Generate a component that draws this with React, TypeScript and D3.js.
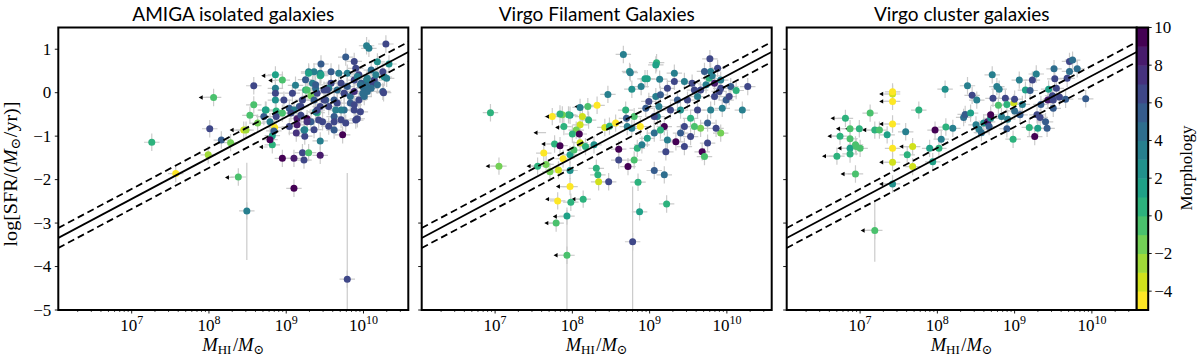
import React from 'react';
import * as d3 from 'd3';

// [log M_HI, log SFR, morphological type T]
const amigaPoints = [
  [7.26, -1.14, 0], [7.57, -1.86, -5], [7.99, -1.43, -3], [8.28, -1.15, -2], [8.38, -1.94, -1],
  [8.49, -2.72, 3], [9.79, -4.29, 6], [9.10, -2.20, 9], [8.01, -0.83, 6], [8.16, -1.09, 5],
  [8.06, -0.11, -1], [8.58, 0.16, 6], [8.53, -0.52, -1], [8.63, -0.70, -2], [8.58, -0.28, -1],
  [8.45, -0.86, -4], [8.48, -0.86, -3], [8.85, -0.80, -5], [8.86, 0.41, 1], [8.95, 0.29, -1],
  [8.86, 0.10, 3], [8.86, -0.17, 2], [8.74, -0.40, 0], [8.87, -0.42, 0], [8.95, -0.47, -1],
  [8.87, -0.55, 6], [8.82, -0.99, 1], [8.82, -1.20, 0], [8.79, -1.08, 9], [8.84, -0.88, 5],
  [8.95, -1.51, 9], [9.10, -1.51, 8], [9.21, -1.38, 6], [9.23, -1.55, 6], [9.29, -1.38, -1],
  [9.44, -1.44, 8], [9.44, -1.11, 3], [9.73, -0.97, 9], [9.13, -0.93, 7], [9.04, -0.78, 6],
  [9.24, -1.00, 6], [9.24, -0.85, 1], [9.27, -0.60, 9], [9.32, -0.67, 5], [9.40, -0.46, 0],
  [9.32, -0.07, -2], [9.25, 0.06, 0], [9.44, 0.39, 0], [9.44, 0.45, 3], [9.45, 0.66, 5],
  [9.29, 0.48, 3], [9.36, 0.48, 3], [9.58, 0.48, 5], [9.68, 0.45, 3], [9.79, 0.45, 3],
  [9.25, 0.30, 5], [9.12, 0.17, 3], [9.77, 0.82, 5], [9.88, 0.72, 6], [10.04, 1.08, 3],
  [10.07, 1.02, 3], [10.29, 1.12, 6], [10.18, 0.71, 2], [10.33, 0.66, 2], [10.27, 0.36, 2],
  [10.30, 0.33, 3], [10.25, 0.03, 5], [10.04, 0.29, 3], [10.12, 0.22, 6], [10.01, 0.10, 6],
  [9.97, 0.22, 5], [9.88, 0.29, 6], [9.90, 0.56, 6], [10.10, 0.52, 4], [9.94, -0.17, 6],
  [9.83, -0.24, 5], [9.88, -0.40, 6], [9.92, -0.60, 6], [9.71, -0.62, 6], [9.62, -0.55, 5],
  [9.55, -0.77, 6], [9.64, -0.40, 3], [9.75, -0.40, 4], [9.62, -0.17, 5], [9.51, -0.17, 5],
  [9.49, 0.06, 6], [9.58, 0.22, 6], [9.66, 0.06, 4], [9.75, -0.02, 5], [9.79, 0.14, 5],
  [9.71, 0.22, 6], [9.40, -0.01, 6], [9.36, -0.17, 5], [9.44, -0.32, 6], [9.55, -0.32, 6],
  [9.38, 0.10, 4], [9.83, -0.09, 4], [10.01, -0.09, 4], [10.05, 0.03, 4], [9.99, -0.02, 4],
  [10.10, 0.10, 4], [10.14, 0.29, 6], [9.94, 0.41, 6], [9.04, -0.36, 5], [8.97, -0.17, 6],
  [9.10, -0.40, 3], [9.14, -0.60, 8], [9.19, -0.52, 6], [9.21, -0.17, 6], [9.17, -0.32, 5],
  [9.36, -0.85, 6], [9.47, -0.67, 6], [9.62, -0.86, 5], [9.77, -0.70, 6], [8.71, -0.55, 5],
  [8.79, -0.67, 3], [9.38, -0.44, 3], [9.55, 0.10, 3], [10.16, 0.41, 3], [10.25, 0.48, 6],
  [9.88, 0.03, 7], [9.34, 0.22, 3],
  [9.29, 0.45, 1], [9.45, 0.41, 1], [9.92, 0.37, 3], [10.05, 0.33, 3], [9.38, 0.18, 5],
  [8.86, -0.01, 6], [9.08, -0.01, 6], [9.27, 0.06, -1], [9.53, 0.06, 6], [9.75, -0.01, 6],
  [9.96, 0.18, 4], [10.00, 0.12, 4], [10.04, 0.16, 4], [10.18, 0.18, 4], [10.26, 0.00, 6],
  [9.49, -0.17, 6], [9.66, -0.24, 6], [9.88, -0.28, 6], [9.96, -0.44, 6], [9.71, -0.40, 3],
  [9.40, -0.40, 6], [9.19, -0.32, 6], [8.73, -0.40, 1], [9.06, -0.47, 6], [9.27, -0.67, 7],
  [9.42, -0.63, 6], [9.62, -0.67, 6], [9.90, -0.63, 6], [9.14, -0.74, 8], [9.23, -0.86, 3],
];

const filamentPoints = [
  [6.94, -0.46, 0], [7.05, -1.69, -2], [8.66, 0.88, 3], [8.74, 0.49, 2], [9.09, 0.69, 0],
  [9.08, 0.64, 1], [8.97, 0.32, 1], [8.94, 0.32, 1], [8.89, 0.14, 3], [8.77, 0.08, 2],
  [8.46, -0.04, 3], [8.32, -0.29, -5], [8.20, -0.32, -1], [8.10, -0.34, 3], [7.97, -0.52, 1],
  [7.95, -0.51, 0], [7.87, -0.51, -2], [7.84, -0.49, 0], [7.74, -0.55, -5], [8.13, -0.55, -4],
  [8.21, -0.63, 0], [8.10, -0.74, -4], [8.05, -0.86, -2], [8.09, -0.95, 9], [8.00, -0.95, 0],
  [7.89, -0.78, 0], [7.77, -1.18, 0], [7.84, -1.22, 9], [7.63, -1.39, -5], [7.66, -1.65, -2],
  [7.55, -1.69, 0], [7.71, -1.82, -2], [7.82, -1.78, -4], [7.88, -1.52, -5], [7.97, -1.43, 1],
  [8.02, -1.32, -1], [8.10, -1.15, -4], [8.17, -1.24, 0], [8.28, -1.20, 2], [7.97, -1.79, 2],
  [7.97, -2.16, -5], [7.81, -2.49, -5], [7.98, -2.52, 0], [8.14, -2.45, 0], [7.93, -2.84, 1],
  [7.79, -3.00, -1], [7.93, -3.74, -1], [8.31, -1.74, 0], [8.33, -1.89, 0], [8.34, -2.05, -4],
  [8.47, -2.05, 6], [8.78, -3.43, 6], [8.85, -2.06, 0], [8.87, -2.74, 1], [9.22, -2.56, 0],
  [9.06, -1.79, 5], [9.19, -1.89, 4], [8.42, -0.80, -4], [8.48, -0.77, 0], [8.56, -0.70, -5],
  [8.70, -0.59, 5], [8.69, -0.40, 0], [8.71, -0.78, 3], [8.77, -0.82, 3], [8.60, -1.30, 9],
  [8.72, -1.70, 9], [8.60, -1.55, 6], [8.80, -1.55, -1], [8.84, -1.28, 0], [8.90, -1.20, 3],
  [8.88, -0.78, -5], [8.80, -0.55, -1], [8.97, -1.05, 1], [9.06, -0.93, 4], [9.10, -0.55, 3],
  [9.19, -0.78, 9], [9.23, -1.09, 3], [9.34, -1.13, 9], [9.45, -1.24, 6], [9.21, -1.36, 6],
  [9.40, -0.93, 5], [9.53, -1.01, 6], [9.66, -0.82, -2], [9.75, -1.16, 6], [9.68, -1.36, 9],
  [9.71, -1.47, -1], [9.92, -0.93, -2], [9.86, -0.82, 6], [9.75, -0.70, 5], [9.53, -0.59, 0],
  [9.45, -0.78, 6], [9.58, -0.78, -1], [9.08, -0.09, 3], [9.14, -0.05, 5], [9.23, 0.10, 6],
  [9.32, 0.26, 6], [9.32, 0.45, 3], [9.45, 0.26, 3], [9.55, 0.22, 6], [9.62, -0.09, 3],
  [9.49, -0.17, 6], [9.66, 0.06, 6], [9.73, 0.18, 3], [9.77, 0.33, 0], [9.79, 0.49, 3],
  [9.81, 0.39, 3], [9.71, 0.49, 5], [9.78, 0.78, 6], [9.88, 0.56, 6], [9.90, 0.03, 6],
  [9.84, -0.09, 6], [9.99, -0.17, 5], [9.94, -0.36, 3], [10.05, 0.14, 5], [10.12, 0.05, 0],
  [10.27, 0.14, 6], [10.20, -0.40, 3], [9.58, 0.06, 6], [9.92, 0.10, 6], [9.84, 0.22, 8],
  [9.62, -0.40, 6], [9.79, -0.40, 3], [10.03, -0.09, 6], [9.92, 0.29, 3], [9.40, -0.40, 2],
  [9.36, -0.17, 5], [9.27, -0.40, 6], [9.12, -0.32, 3], [8.99, -0.20, 6], [8.95, -0.36, 5],
  [9.06, -0.55, 6], [9.14, -0.86, 0], [8.75, 0.46, 3], [9.13, 0.31, 3],
];

const clusterPoints = [
  [6.81, -0.59, 0], [6.87, -0.83, -1], [6.99, -0.83, 0], [6.74, -1.00, 0], [6.87, -1.06, -1],
  [6.94, -1.20, -1], [6.87, -1.28, 1], [6.95, -1.24, -1], [7.00, -1.28, -1], [6.87, -1.41, 0],
  [6.70, -1.46, 0], [6.94, -1.87, -1], [7.13, -0.47, -1], [7.19, -0.86, 0], [7.25, -0.86, -1],
  [7.35, -0.97, 1], [7.42, -0.03, -4], [7.42, 0.02, -5], [7.42, -0.20, -5], [7.42, -0.72, -5],
  [7.42, -1.28, -5], [7.42, -1.60, -4], [7.42, -2.10, 2], [7.19, -3.17, -1], [7.59, -0.90, 3],
  [7.61, -1.43, 0], [7.68, -1.24, -4], [7.68, -1.70, -4], [7.76, -0.40, 0], [7.90, -1.28, 1],
  [7.94, -1.59, 1], [7.97, -0.86, 9], [8.02, -1.28, 0], [8.05, -1.07, 3], [8.11, -0.79, 0],
  [8.10, 0.08, 2], [8.20, -0.82, 3], [8.34, -0.57, 4], [8.36, -0.50, 5], [8.39, 0.16, 3],
  [8.45, -0.06, 6], [8.51, -0.17, 3], [8.43, -0.47, 1], [8.50, -0.74, 3], [8.54, -0.84, 3],
  [8.57, -0.92, 4], [8.60, -0.70, 2], [8.65, -0.67, 8], [8.69, -0.59, 2], [8.67, -0.78, 5],
  [8.69, -0.51, 9], [8.71, 0.41, 3], [8.72, -0.13, 6], [8.77, 0.14, 3], [8.80, 0.08, 3],
  [8.79, -0.29, -1], [8.83, -0.55, 3], [8.88, -0.13, 6], [8.90, -0.27, 0], [8.91, -0.61, 3],
  [8.90, -0.83, 5], [8.99, -0.24, -4], [9.00, -0.15, 6], [9.00, -0.42, 4], [8.98, -1.07, 0],
  [9.06, 0.29, 3], [9.07, -0.51, 5], [9.10, -0.27, 3], [9.14, 0.06, 1], [9.20, 0.05, 5],
  [9.23, 0.29, 6], [9.28, 0.43, 3], [9.19, -0.80, 0], [9.30, -0.82, 1], [9.26, -1.01, 9],
  [9.29, -0.51, 6], [9.33, -0.57, 6], [9.34, -0.27, 5], [9.40, -0.67, 5], [9.42, -0.82, 5],
  [9.44, 0.08, 1], [9.43, -0.17, 8], [9.47, -0.15, 8], [9.50, -0.17, 6], [9.50, -0.36, 5],
  [9.49, -0.07, 6], [9.54, 0.10, 6], [9.52, 0.32, 6], [9.51, 0.55, 4], [9.58, -0.10, 6],
  [9.66, -0.15, 5], [9.68, 0.33, 6], [9.71, 0.72, 6], [9.75, 0.75, 4], [9.71, 0.49, 4],
  [9.81, 0.55, 4], [9.92, -0.14, 5],
];

// HI upper limits: [arrow head log M_HI, tail log M_HI, log SFR]
const amigaLimits = [
  [7.88, 8.06, -0.11], [8.69, 8.80, 0.39], [8.78, 8.88, 0.28],
  [8.28, 8.38, -0.86], [8.22, 8.32, -1.95], [8.66, 8.76, -1.25],
];
const filamentLimits = [
  [6.89, 7.05, -1.69], [7.51, 7.66, -0.92], [7.61, 7.77, -1.18], [7.66, 7.74, -0.55],
  [7.42, 7.55, -1.69], [7.79, 7.89, -0.80], [8.04, 8.20, -0.32], [7.80, 7.97, -2.16],
  [7.66, 7.81, -2.45], [8.00, 8.14, -2.45], [7.65, 7.79, -3.00], [7.76, 7.93, -2.85],
  [7.77, 7.93, -3.74],
];
const clusterLimits = [
  [6.63, 6.81, -0.59], [6.70, 6.87, -0.83], [6.82, 6.99, -0.83], [7.04, 7.19, -0.86],
  [6.59, 6.74, -1.00], [6.72, 6.87, -1.28], [6.52, 6.70, -1.46], [6.76, 6.94, -1.87],
  [7.26, 7.42, -0.03], [7.26, 7.42, -0.20], [7.26, 7.42, -0.72], [7.26, 7.42, -1.60],
  [7.52, 7.68, -1.24], [7.02, 7.19, -3.17], [7.26, 7.42, -2.10],
];

// long SFR error bars: [log M_HI, upper log SFR, lower log SFR]
const amigaLongErr = [[8.49, -1.61, -3.85], [9.79, -1.85, -5.3]];
const filamentLongErr = [[7.93, -2.70, -5.3], [8.78, -2.16, -5.3]];
const clusterLongErr = [[7.19, -2.47, -3.89]];

const TITLES = ['AMIGA isolated galaxies', 'Virgo Filament Galaxies', 'Virgo cluster galaxies'];

const FIT_SLOPE = 0.945;
const FIT_INTERCEPT = -9.06;
const FIT_SCATTER = 0.23;
const LOG_M_ERR = 0.1;
const LOG_SFR_ERR = 0.2;

const Y_TICKS = [-5, -4, -3, -2, -1, 0, 1];
const X_TICK_EXP = [7, 8, 9, 10];
const CBAR_TICKS = [-4, -2, 0, 2, 4, 6, 8, 10];
const T_MIN = -5;
const T_MAX = 10;
const N_BINS = 15;

const LOGM_MIN = 6.05;
const LOGM_MAX = 10.58;

const W = 350;
const TOP = 27.5;
const BOTTOM = 310;
const PANEL_X = [58.3, 421.7, 786.7];
const SERIF = '"Liberation Serif", "DejaVu Serif", serif';
const SANS = 'Lato, "DejaVu Sans", sans-serif';

const binColor = (t) => {
  const bin = Math.max(0, Math.min(N_BINS - 1, Math.floor(t - T_MIN)));
  return d3.interpolateViridis(1 - bin / (N_BINS - 1));
};

const minus = (v) => (v < 0 ? '\u2212' + Math.abs(v) : String(v));

function Panel({ idx, left, title, points, limits, longErr }) {
  const x = d3.scaleLog().domain([10 ** LOGM_MIN, 10 ** LOGM_MAX]).range([left, left + W]);
  const y = d3.scaleLinear().domain([-5, 1.5]).range([BOTTOM, TOP]);
  const X = (m) => x(10 ** m);

  const minor = [];
  for (let e = 6; e <= 10; e++) {
    for (let k = 2; k <= 9; k++) {
      const v = k * 10 ** e;
      if (v > 10 ** LOGM_MIN && v < 10 ** LOGM_MAX) minor.push(v);
    }
  }

  const fit = (off) =>
    d3.line()([LOGM_MIN, LOGM_MAX].map((m) => [X(m), y(FIT_SLOPE * m + FIT_INTERCEPT + off)]));

  const clipId = `clip-${idx}`;
  const errColor = '#cbcbcb';

  return (
    <g>
      <defs>
        <clipPath id={clipId}>
          <rect x={left} y={TOP} width={W} height={BOTTOM - TOP} />
        </clipPath>
      </defs>
      <text x={left + W / 2} y={21} textAnchor="middle" fontFamily={SANS} fontSize={19}>
        {title}
      </text>
      <g clipPath={`url(#${clipId})`}>
        {longErr.map((d, i) => (
          <line key={'le' + i} x1={X(d[0])} x2={X(d[0])} y1={y(d[1])} y2={y(d[2])} stroke={errColor} strokeWidth={1.2} />
        ))}
        {points.map((d, i) => (
          <g key={'e' + i} stroke={errColor} strokeWidth={1.2}>
            <line x1={X(d[0] - LOG_M_ERR)} x2={X(d[0] + LOG_M_ERR)} y1={y(d[1])} y2={y(d[1])} />
            <line x1={X(d[0])} x2={X(d[0])} y1={y(d[1] + LOG_SFR_ERR)} y2={y(d[1] - LOG_SFR_ERR)} />
          </g>
        ))}
        {limits.map((d, i) => (
          <g key={'l' + i}>
            <line x1={X(d[0])} x2={X(d[1])} y1={y(d[2])} y2={y(d[2])} stroke={errColor} strokeWidth={1.2} />
            <path d={`M${X(d[0]) - 1},${y(d[2])}l4,-2.2l0,4.4z`} fill="#000" />
          </g>
        ))}
        {points.map((d, i) => (
          <circle key={'p' + i} cx={X(d[0])} cy={y(d[1])} r={3.5} fill={binColor(d[2])} />
        ))}
        <path d={fit(0)} stroke="#000" strokeWidth={1.8} fill="none" />
        <path d={fit(FIT_SCATTER)} stroke="#000" strokeWidth={1.8} fill="none" strokeDasharray="7,4" />
        <path d={fit(-FIT_SCATTER)} stroke="#000" strokeWidth={1.8} fill="none" strokeDasharray="7,4" />
      </g>

      {/* y ticks */}
      {Y_TICKS.map((t) => (
        <g key={'yt' + t}>
          <line x1={left - 3.5} x2={left} y1={y(t)} y2={y(t)} stroke="#000" strokeWidth={0.9} />
          {idx === 0 && (
            <text x={left - 7} y={y(t)} dy="0.33em" textAnchor="end" fontFamily={SERIF} fontSize={17}>
              {minus(t)}
            </text>
          )}
        </g>
      ))}
      {/* x ticks */}
      {minor.map((v, i) => (
        <line key={'mn' + i} x1={x(v)} x2={x(v)} y1={BOTTOM} y2={BOTTOM + 2} stroke="#000" strokeWidth={0.7} />
      ))}
      {X_TICK_EXP.map((e) => (
        <g key={'xt' + e}>
          <line x1={x(10 ** e)} x2={x(10 ** e)} y1={BOTTOM} y2={BOTTOM + 3.5} stroke="#000" strokeWidth={0.9} />
          <text x={x(10 ** e)} y={331} textAnchor="middle" fontFamily={SERIF} fontSize={17}>
            10<tspan dy={-7} fontSize={12}>{e}</tspan>
          </text>
        </g>
      ))}
      <text x={left + W / 2} y={351} textAnchor="middle" fontFamily={SERIF} fontSize={18.5}>
        <tspan fontStyle="italic">M</tspan>
        <tspan dy={3} fontSize={13}>HI</tspan>
        <tspan dy={-3} dx={1.5}>/</tspan>
        <tspan fontStyle="italic">M</tspan>
        <tspan dy={3} fontSize={13}>{'\u2299'}</tspan>
      </text>
      <rect x={left} y={TOP} width={W} height={BOTTOM - TOP} fill="none" stroke="#000" strokeWidth={2} />
    </g>
  );
}

function ColorBar() {
  const left = 1136.7;
  const width = 11.5;
  const c = d3.scaleLinear().domain([T_MIN, T_MAX]).range([BOTTOM, TOP]);
  const bins = d3.range(N_BINS);
  return (
    <g>
      {bins.map((b) => (
        <rect
          key={b}
          x={left}
          y={c(T_MIN + b + 1)}
          width={width}
          height={c(T_MIN + b) - c(T_MIN + b + 1) + 0.5}
          fill={d3.interpolateViridis(1 - b / (N_BINS - 1))}
        />
      ))}
      <rect x={left} y={TOP} width={width} height={BOTTOM - TOP} fill="none" stroke="#000" strokeWidth={2} />
      {CBAR_TICKS.map((t) => (
        <g key={t}>
          <line x1={left + width} x2={left + width + 3.5} y1={c(t)} y2={c(t)} stroke="#000" strokeWidth={0.9} />
          <text x={left + width + 6} y={c(t)} dy="0.33em" fontFamily={SERIF} fontSize={17}>
            {minus(t)}
          </text>
        </g>
      ))}
      <text transform={`translate(1192,168) rotate(-90)`} textAnchor="middle" fontFamily={SERIF} fontSize={17}>
        Morphology
      </text>
    </g>
  );
}

export default function App() {
  const sets = [
    [amigaPoints, amigaLimits, amigaLongErr],
    [filamentPoints, filamentLimits, filamentLongErr],
    [clusterPoints, clusterLimits, clusterLongErr],
  ];
  return (
    <svg
      width={1200}
      height={361}
      style={{ position: 'absolute', left: 0, top: 0, background: '#fff' }}
    >
      {sets.map((s, i) => (
        <Panel key={i} idx={i} left={PANEL_X[i]} title={TITLES[i]} points={s[0]} limits={s[1]} longErr={s[2]} />
      ))}
      <text
        transform="translate(17,174) rotate(-90)"
        textAnchor="middle"
        fontFamily={SERIF}
        fontSize={18}
        textLength={145}
        lengthAdjust="spacingAndGlyphs"
      >
        log[SFR/(<tspan fontStyle="italic">M</tspan>
        <tspan dy={3} fontSize={13}>{'\u2299'}</tspan>
        <tspan dy={-3}>/yr)]</tspan>
      </text>
      <ColorBar />
    </svg>
  );
}
